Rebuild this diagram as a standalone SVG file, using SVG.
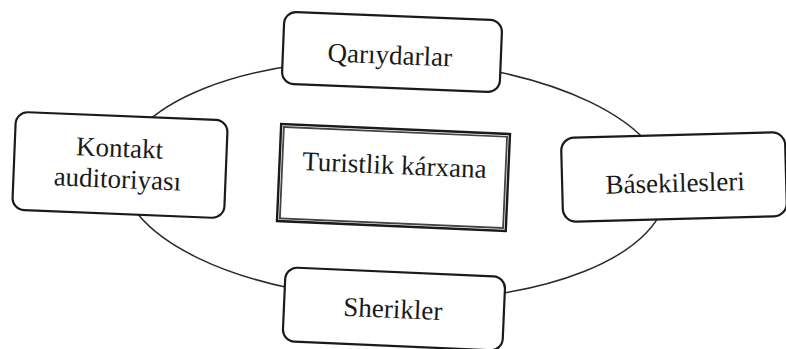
<svg xmlns="http://www.w3.org/2000/svg" width="786" height="349" viewBox="0 0 786 349">
<style>
.box{fill:#fff;stroke:#1a1a1a;stroke-width:2.2}
.lbl{font-family:"Liberation Serif","Times New Roman",serif;font-size:27px;fill:#1a1a1a;text-anchor:middle}
.conn{fill:none;stroke:#2a2a2a;stroke-width:1.5}
</style>
<rect width="786" height="349" fill="#fff"/>
<g id="connectors">
<ellipse class="conn" cx="394" cy="180" rx="273" ry="120" transform="rotate(2 394 180)"/>
</g>
<g id="center" transform="rotate(2.5 393 177)">
<rect x="279" y="129" width="229" height="97" fill="#fff" stroke="#1a1a1a" stroke-width="2.4"/>
<rect x="281.8" y="131.8" width="223.4" height="91.4" fill="none" stroke="#444" stroke-width="1.8"/>
<text class="lbl" x="394" y="174">Turistlik kárxana</text>
</g>
<g id="qariydarlar" transform="rotate(2.3 392 52)">
<rect class="box" x="283" y="16" width="218" height="72" rx="12"/>
<text class="lbl" x="390" y="64">Qarıydarlar</text>
</g>
<g id="kontakt" transform="rotate(2.3 120 165)">
<rect class="box" x="14" y="116" width="212" height="98" rx="12"/>
<text class="lbl" x="119" y="157">Kontakt</text>
<text class="lbl" x="118" y="188">auditoriyası</text>
</g>
<g id="basekilesleri" transform="rotate(-1.5 673 177)">
<rect class="box" x="562" y="135" width="224" height="84" rx="13"/>
<text class="lbl" x="675" y="192">Básekilesleri</text>
</g>
<g id="sherikler" transform="rotate(2.5 394 308)">
<rect class="box" x="284" y="272" width="220" height="74" rx="12"/>
<text class="lbl" x="393" y="318">Sherikler</text>
</g>
</svg>
